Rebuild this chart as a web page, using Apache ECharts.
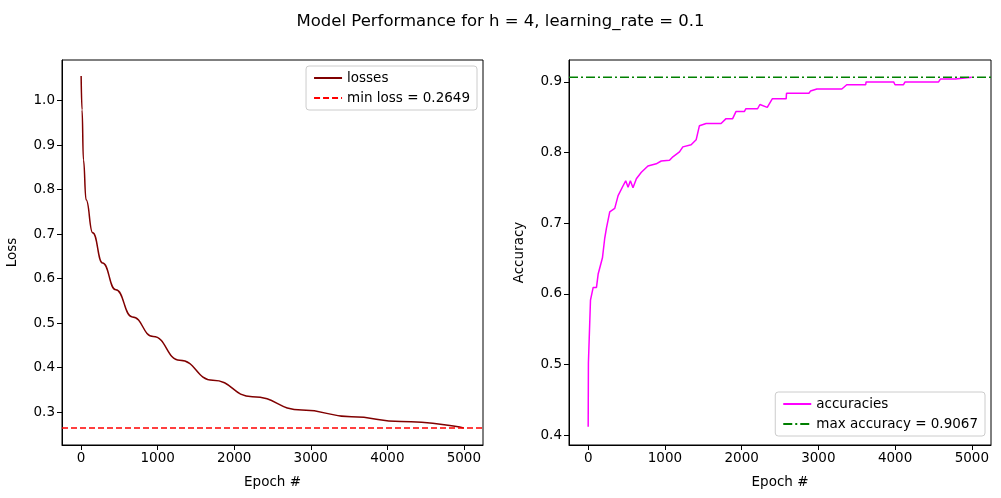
<!DOCTYPE html>
<html>
<head>
<meta charset="utf-8">
<script src="https://cdn.jsdelivr.net/npm/echarts@6/dist/echarts.min.js"></script>
<style>html,body{margin:0;padding:0;background:#fff}#main{width:1001px;height:498px}</style>
</head>
<body>
<div id="main"></div>
<script>
// loss curve [epoch, loss]
var lossData = [[0,1.055],[12,0.979],[30,0.867],[65,0.777],[151,0.703],[280,0.635],[453,0.575],[669,0.514],
	[942,0.470],[1288,0.417],[1720,0.372],[2237,0.335],[2885,0.305],[3532,0.290],[4180,0.279],[4999,0.2649]];
// accuracy curve [epoch, accuracy]
var accData = [[0,0.412],[3,0.502],[30,0.591],[65,0.609],[108,0.609],[130,0.628],[186,0.651],[216,0.679],
	[238,0.693],[281,0.716],[346,0.721],[390,0.739],[455,0.753],[489,0.760],[520,0.751],[550,0.760],
	[584,0.750],[628,0.763],[693,0.772],[779,0.781],[887,0.784],[952,0.788],[1060,0.789],[1104,0.794],
	[1190,0.801],[1234,0.808],[1342,0.811],[1407,0.818],[1450,0.838],[1537,0.841],[1732,0.841],[1797,0.848],
	[1883,0.848],[1926,0.858],[2035,0.858],[2056,0.862],[2208,0.862],[2238,0.868],[2334,0.864],[2399,0.876],
	[2580,0.876],[2585,0.884],[2877,0.884],[2897,0.887],[2981,0.890],[3306,0.890],[3370,0.896],[3617,0.896],
	[3622,0.900],[3981,0.900],[3999,0.896],[4110,0.896],[4130,0.900],[4567,0.900],[4590,0.904],[4784,0.904],
	[4800,0.9067],[4999,0.9067]];
var minLoss = 0.2649;
var maxAcc = 0.9067;
var xRange = [-250, 5250];
var xTicks = [0, 1000, 2000, 3000, 4000, 5000];
var lossTicks = [0.3, 0.4, 0.5, 0.6, 0.7, 0.8, 0.9, 1.0];
var accTicks = [0.4, 0.5, 0.6, 0.7, 0.8, 0.9];

var chart = echarts.init(document.getElementById('main'));
var font = 'DejaVu Sans';
function xAx(idx) {
	return {
		type: 'value', gridIndex: idx, min: xRange[0], max: xRange[1],
		name: 'Epoch #', nameLocation: 'middle', nameGap: 30,
		nameTextStyle: {fontFamily: font, fontSize: 13.5, color: '#000'},
		axisLine: {show: true, onZero: false, lineStyle: {color: '#000', width: 1}},
		axisTick: {show: true, length: 5, customValues: xTicks, lineStyle: {color: '#000'}},
		axisLabel: {color: '#000', fontFamily: font, fontSize: 13.5, margin: 6, customValues: xTicks,
			formatter: function(v){return String(v);}},
		splitLine: {show: false}
	};
}
function yAx(idx, min, max, name, ticks) {
	return {
		type: 'value', gridIndex: idx, min: min, max: max,
		name: name, nameLocation: 'middle', nameGap: 43,
		nameTextStyle: {fontFamily: font, fontSize: 13.5, color: '#000'},
		axisLine: {show: true, onZero: false, lineStyle: {color: '#000', width: 1}},
		axisTick: {show: true, length: 5, customValues: ticks, lineStyle: {color: '#000'}},
		axisLabel: {color: '#000', fontFamily: font, fontSize: 13.5, margin: 7, customValues: ticks,
			formatter: function(v){return v.toFixed(1);}},
		splitLine: {show: false}
	};
}
var legendBase = {orient: 'vertical', itemWidth: 28, itemHeight: 12, itemGap: 6, padding: [5, 7, 5, 7],
	borderColor: '#ccc', borderWidth: 1, borderRadius: 3, backgroundColor: '#fff',
	itemStyle: {opacity: 0}, textStyle: {fontFamily: font, fontSize: 13.5, color: '#000'}};

chart.setOption({
	animation: false,
	title: {text: 'Model Performance for h = 4, learning_rate = 0.1', left: 'center', top: 8,
		textStyle: {fontFamily: font, fontSize: 16.5, fontWeight: 'normal', color: '#000'}},
	grid: [
		{left: 62, top: 60, width: 421, height: 385, show: true, borderColor: '#000', borderWidth: 1},
		{left: 569, top: 60, width: 422, height: 385, show: true, borderColor: '#000', borderWidth: 1}
	],
	xAxis: [xAx(0), xAx(1)],
	yAxis: [yAx(0, 0.2265, 1.091, 'Loss', lossTicks), yAx(1, 0.386, 0.931, 'Accuracy', accTicks)],
	legend: [
		Object.assign({}, legendBase, {data: ['losses', 'min loss = ' + minLoss], right: 524, top: 66}),
		Object.assign({}, legendBase, {data: ['accuracies', 'max accuracy = ' + maxAcc], right: 16, top: 392})
	],
	series: [
		{name: 'losses', type: 'line', xAxisIndex: 0, yAxisIndex: 0, data: lossData, smooth: true,
			smoothMonotone: 'x', symbol: 'none', lineStyle: {color: '#800000', width: 1.5}, itemStyle: {color: '#800000'}},
		{name: 'min loss = ' + minLoss, type: 'line', xAxisIndex: 0, yAxisIndex: 0,
			data: [[xRange[0], minLoss], [xRange[1], minLoss]], symbol: 'none',
			lineStyle: {color: '#ff0000', width: 1.5, type: [6, 3]}, itemStyle: {color: '#ff0000'}},
		{name: 'accuracies', type: 'line', xAxisIndex: 1, yAxisIndex: 1, data: accData, symbol: 'none',
			lineStyle: {color: '#ff00ff', width: 1.5}, itemStyle: {color: '#ff00ff'}},
		{name: 'max accuracy = ' + maxAcc, type: 'line', xAxisIndex: 1, yAxisIndex: 1,
			data: [[xRange[0], maxAcc], [xRange[1], maxAcc]], symbol: 'none',
			lineStyle: {color: '#008000', width: 1.5, type: [9, 3, 2, 3]}, itemStyle: {color: '#008000'}}
	]
});
</script>
</body>
</html>
